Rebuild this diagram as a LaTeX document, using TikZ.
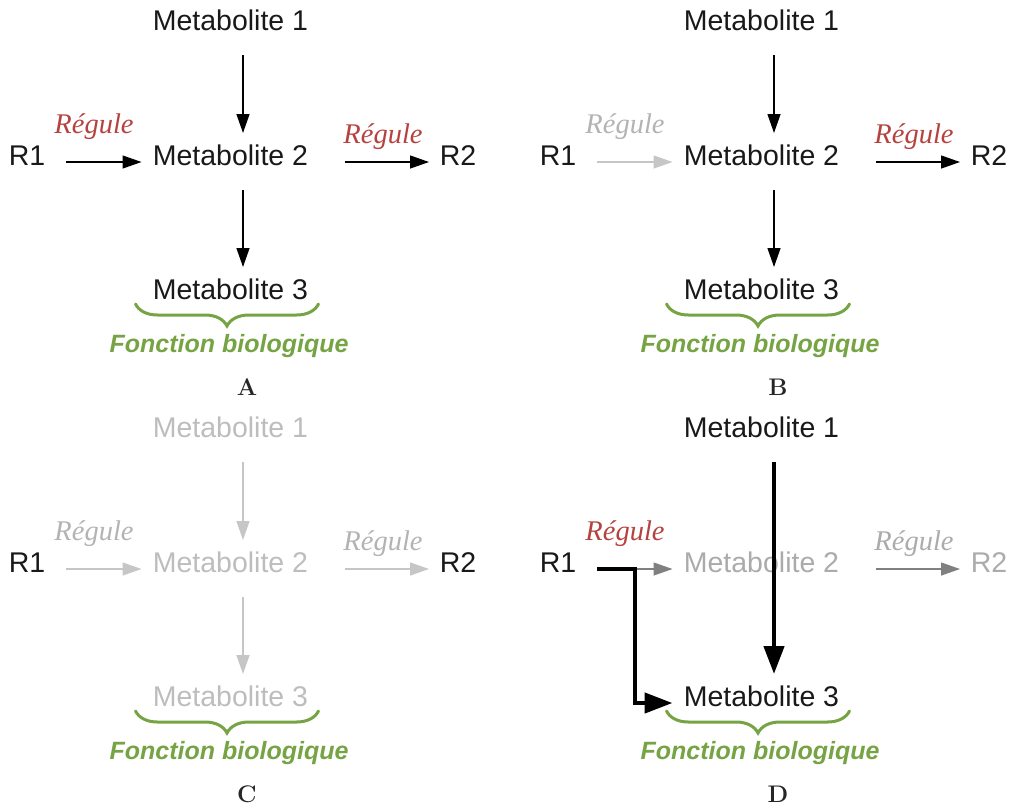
\documentclass[tikz,border=0pt]{standalone}
\usepackage{fontspec}
\newfontfamily\arialf{Liberation Sans}
\newfontfamily\timesf{Liberation Serif}
\usetikzlibrary{arrows.meta,calc,decorations.pathreplacing}
\definecolor{regred}{HTML}{B5423F}
\definecolor{biogreen}{HTML}{76A444}
\definecolor{fadetext}{HTML}{BDBDBD}
\definecolor{fadearrow}{HTML}{C6C6C6}
\definecolor{fadereg}{HTML}{B3B3B3}
\definecolor{midtext}{HTML}{ABABAB}
\definecolor{midarrow}{HTML}{808080}
\tikzset{
  met/.style={anchor=base,inner sep=0pt,font=\arialf\fontsize{28.5}{32}\selectfont,text=black!90},
  reg/.style={anchor=base,inner sep=0pt,font=\timesf\itshape\fontsize{28.5}{30}\selectfont,text=regred},
  bio/.style={anchor=base,inner sep=0pt,font=\arialf\bfseries\itshape\fontsize{25}{28}\selectfont,text=biogreen},
  lett/.style={anchor=base,inner sep=0pt,font=\fontsize{24}{28}\selectfont\bfseries,text=black!85},
  thin/.style={line width=1.3pt,-{Triangle[length=19pt,width=13pt]},draw=black},
  thick/.style={line width=4.5pt,-{Triangle[length=28pt,width=20pt]},draw=black},
  bracel/.style={draw=biogreen,line width=3pt,line cap=round,decorate,decoration={brace,mirror,amplitude=22pt}}
}
\begin{document}
\begin{tikzpicture}[x=1pt,y=-1pt]
\useasboundingbox (0,0) rectangle (1012,807);
% ---------- Panel A
\begin{scope}
\node[met] (am1) at (230.5,30) {Metabolite 1};
\node[met] (am2) at (230.5,165) {Metabolite 2};
\node[met] (am3) at (230.5,299) {Metabolite 3};
\node[met] (ar1) at (27,165) {R1};
\node[met] (ar2) at (458,165) {R2};
\node[reg] (arl) at (94,133) {Régule};
\node[reg] (arr) at (383,143) {Régule};
\draw[thin] ($(am1.base)+(12.5,25)$) -- ($(am2.base)+(12.5,-32)$);
\draw[thin] ($(am2.base)+(12.5,25)$) -- ($(am3.base)+(12.5,-32)$);
\draw[thin] ($(ar1.base)+(39,-3)$) -- ($(am2.base)+(-89,-3)$);
\draw[thin] ($(am2.base)+(114,-3)$) -- ($(ar2.base)+(-29,-3)$);
\draw[bracel] ($(am3.base)+(-95,5)$) -- ($(am3.base)+(88,5)$);
\node[bio] (abio) at (229,352) {Fonction biologique};
\node[lett] (alet) at (247,395) {A};
\end{scope}
% ---------- Panel B
\begin{scope}[shift={(531,0)}]
\node[met] (bm1) at (230.5,30) {Metabolite 1};
\node[met] (bm2) at (230.5,165) {Metabolite 2};
\node[met] (bm3) at (230.5,299) {Metabolite 3};
\node[met] (br1) at (27,165) {R1};
\node[met] (br2) at (458,165) {R2};
\node[reg,text=fadereg] (brl) at (94,133) {Régule};
\node[reg] (brr) at (383,143) {Régule};
\draw[thin] ($(bm1.base)+(12.5,25)$) -- ($(bm2.base)+(12.5,-32)$);
\draw[thin] ($(bm2.base)+(12.5,25)$) -- ($(bm3.base)+(12.5,-32)$);
\draw[thin,draw=fadearrow] ($(br1.base)+(39,-3)$) -- ($(bm2.base)+(-89,-3)$);
\draw[thin] ($(bm2.base)+(114,-3)$) -- ($(br2.base)+(-29,-3)$);
\draw[bracel] ($(bm3.base)+(-95,5)$) -- ($(bm3.base)+(88,5)$);
\node[bio] (bbio) at (229,352) {Fonction biologique};
\node[lett] (blet) at (247,395) {B};
\end{scope}
% ---------- Panel C
\begin{scope}[shift={(0,407)}]
\node[met,text=fadetext] (cm1) at (230.5,30) {Metabolite 1};
\node[met,text=fadetext] (cm2) at (230.5,165) {Metabolite 2};
\node[met,text=fadetext] (cm3) at (230.5,299) {Metabolite 3};
\node[met] (cr1) at (27,165) {R1};
\node[met] (cr2) at (458,165) {R2};
\node[reg,text=fadereg] (crl) at (94,133) {Régule};
\node[reg,text=fadereg] (crr) at (383,143) {Régule};
\draw[thin,draw=fadearrow] ($(cm1.base)+(12.5,25)$) -- ($(cm2.base)+(12.5,-32)$);
\draw[thin,draw=fadearrow] ($(cm2.base)+(12.5,25)$) -- ($(cm3.base)+(12.5,-32)$);
\draw[thin,draw=fadearrow] ($(cr1.base)+(39,-3)$) -- ($(cm2.base)+(-89,-3)$);
\draw[thin,draw=fadearrow] ($(cm2.base)+(114,-3)$) -- ($(cr2.base)+(-29,-3)$);
\draw[bracel] ($(cm3.base)+(-95,5)$) -- ($(cm3.base)+(88,5)$);
\node[bio] (cbio) at (229,352) {Fonction biologique};
\node[lett] (clet) at (247,395) {C};
\end{scope}
% ---------- Panel D
\begin{scope}[shift={(531,407)}]
\node[met] (dm1) at (230.5,30) {Metabolite 1};
\node[met,text=midtext] (dm2) at (230.5,165) {Metabolite 2};
\node[met] (dm3) at (230.5,299) {Metabolite 3};
\node[met] (dr1) at (27,165) {R1};
\node[met,text=midtext] (dr2) at (458,165) {R2};
\node[reg] (drl) at (94,133) {Régule};
\node[reg,text=midtext] (drr) at (383,143) {Régule};
\draw[thin,draw=midarrow] ($(dr1.base)+(39,-3)$) -- ($(dm2.base)+(-89,-3)$);
\draw[thin,draw=midarrow] ($(dm2.base)+(114,-3)$) -- ($(dr2.base)+(-29,-3)$);
\draw[thick] ($(dm1.base)+(12.5,25)$) -- ($(dm3.base)+(12.5,-32)$);
\draw[thick] ($(dr1.base)+(39,-3)$) -- ($(dr1.base)+(77,-3)$) |- ($(dm3.base)+(-89,-3)$);
\draw[bracel] ($(dm3.base)+(-95,5)$) -- ($(dm3.base)+(88,5)$);
\node[bio] (dbio) at (229,352) {Fonction biologique};
\node[lett] (dlet) at (247,395) {D};
\end{scope}
\end{tikzpicture}
\end{document}
